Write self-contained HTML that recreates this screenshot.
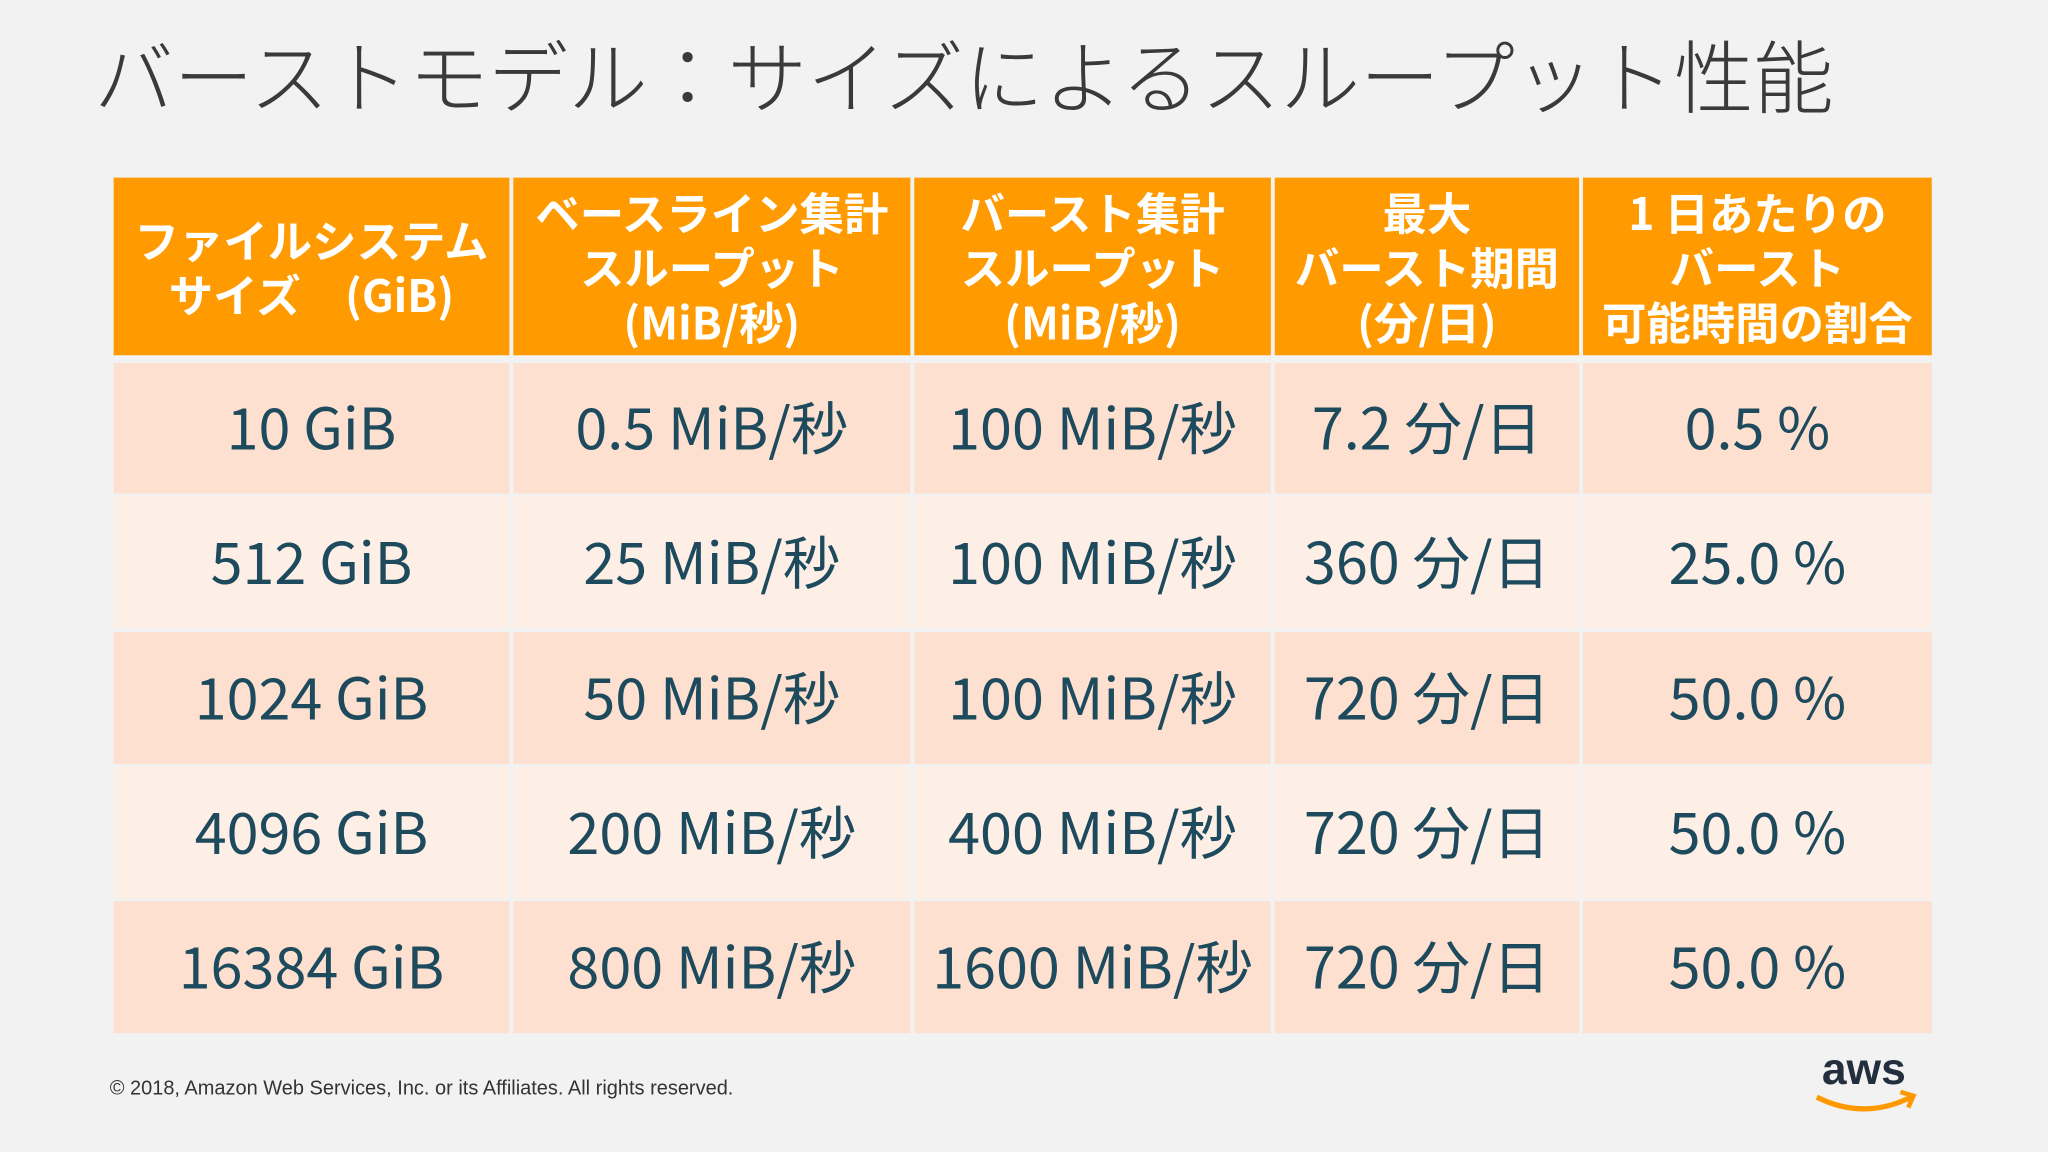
<!DOCTYPE html>
<html><head><meta charset="utf-8">
<style>
html,body{margin:0;padding:0;background:#f2f2f2;}
body{width:2048px;height:1152px;overflow:hidden;}
#stage{position:absolute;left:0;top:0;width:1568px;height:882px;transform:scale(1.306122);transform-origin:0 0;background:#f2f2f2;font-family:"Noto Sans CJK JP","Liberation Sans",sans-serif;}
.title{position:absolute;left:72px;top:13px;font-size:61px;font-weight:300;color:#3a3a3a;white-space:nowrap;line-height:86px;}
.cell{position:absolute;display:flex;align-items:center;justify-content:center;text-align:center;box-sizing:border-box;}
.hd{background:#ff9a00;color:#fff;font-weight:bold;font-size:34px;line-height:42px;}
.bd{color:#1d4a5c;font-size:44px;font-weight:400;white-space:nowrap;padding-bottom:6px;}
.r0{background:#fde0d0;}
.r1{background:#fdeee6;}
.foot{position:absolute;left:84px;top:825px;font-size:15.3px;color:#333;font-family:"Liberation Sans",sans-serif;}
</style></head><body>
<div id="stage">
<div class="title">バーストモデル：サイズによるスループット性能</div>
<div id="table"></div>
<div class="foot">© 2018, Amazon Web Services, Inc. or its Affiliates. All rights reserved.</div>
<svg style="position:absolute;left:1385px;top:798px" width="86" height="58">
<text x="42" y="32" text-anchor="middle" font-family="Liberation Sans, sans-serif" font-weight="bold" font-size="34" fill="#232f3e">aws</text>
<path d="M6 42 Q42 60 78 42" stroke="#ff9900" stroke-width="4" fill="none"/>
<path d="M70 38 L80 41 L76 50" stroke="#ff9900" stroke-width="3.5" fill="none"/>
</svg>
</div>
<script>
const xs=[86,392,699,975,1211,1481];
const headers=["ファイルシステム<br>サイズ　(GiB)","ベースライン集計<br>スループット<br>(MiB/秒)","バースト集計<br>スループット<br>(MiB/秒)","最大<br>バースト期間<br>(分/日)","1 日あたりの<br>バースト<br>可能時間の割合"];
const rows=[
["10 GiB","0.5 MiB/秒","100 MiB/秒","7.2 分/日","0.5 %"],
["512 GiB","25 MiB/秒","100 MiB/秒","360 分/日","25.0 %"],
["1024 GiB","50 MiB/秒","100 MiB/秒","720 分/日","50.0 %"],
["4096 GiB","200 MiB/秒","400 MiB/秒","720 分/日","50.0 %"],
["16384 GiB","800 MiB/秒","1600 MiB/秒","720 分/日","50.0 %"]];
const ys=[278,380,484,587,690];
const rh=[100,101,101,101,101];
const t=document.getElementById('table');
headers.forEach((h,i)=>{
 const d=document.createElement('div');
 d.className='cell hd';
 d.style.left=(xs[i]+1)+'px';d.style.top='136px';d.style.width=(xs[i+1]-xs[i]-3)+'px';d.style.height='136px';
 d.innerHTML=h;
 
 
 t.appendChild(d);
});
rows.forEach((r,ri)=>{
 r.forEach((v,ci)=>{
  const d=document.createElement('div');
  d.className='cell bd r'+(ri%2);
  d.style.left=(xs[ci]+1)+'px';d.style.top=ys[ri]+'px';d.style.width=(xs[ci+1]-xs[ci]-3)+'px';d.style.height=rh[ri]+'px';
  d.textContent=v;
  
  
  t.appendChild(d);
 });
});
</script>
</body></html>
